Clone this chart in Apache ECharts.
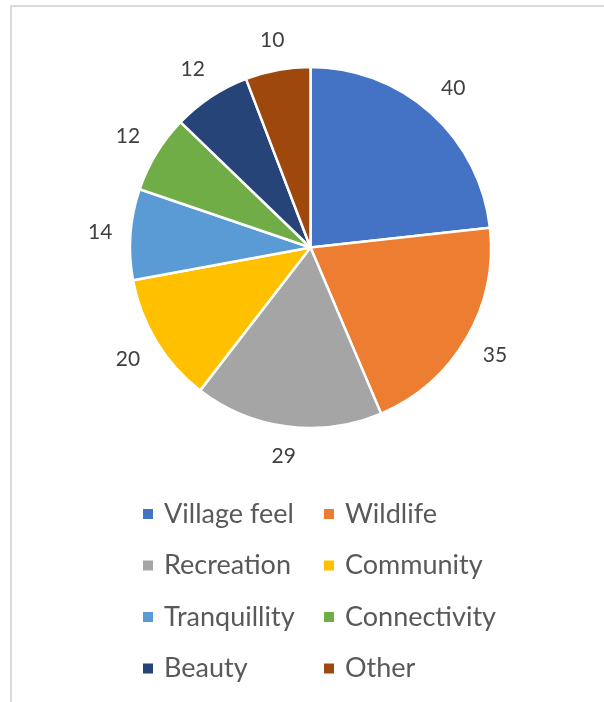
<!DOCTYPE html>
<html>
<head>
<meta charset="utf-8">
<script src="https://cdn.jsdelivr.net/npm/echarts@6/dist/echarts.min.js"></script>
<style>
  html, body { margin: 0; padding: 0; background: #ffffff; }
  #chart { width: 604px; height: 702px; }
</style>
</head>
<body>
<div id="chart"></div>
<script>
// Reasons people value the area (counts of responses)
const categories = ['Village feel', 'Wildlife', 'Recreation', 'Community',
                    'Tranquillity', 'Connectivity', 'Beauty', 'Other'];
const counts = [40, 35, 29, 20, 14, 12, 12, 10];
const colors = ['#4472C4', '#ED7D31', '#A5A5A5', '#FFC000',
                '#5B9BD5', '#70AD47', '#264478', '#9E480E'];

// Legend columns: left column and right column
const legendLeft = ['Village feel', 'Recreation', 'Tranquillity', 'Beauty'];
const legendRight = ['Wildlife', 'Community', 'Connectivity', 'Other'];

const FONT = 'Lato';
const CX = 310.5, CY = 247.5, R = 180.5;
const LABEL_GAP = 198; // distance from centre to the nearest edge of each value label

const total = counts.reduce((a, b) => a + b, 0);
// mid angle of each slice, measured clockwise from 12 o'clock
const midAngles = [];
counts.reduce((acc, v) => { midAngles.push((acc + v / 2) / total * 2 * Math.PI); return acc + v; }, 0);

const pieData = categories.map((name, i) => ({
  name, value: counts[i], itemStyle: { color: colors[i] }
}));

const chart = echarts.init(document.getElementById('chart'), null, { renderer: 'canvas' });

const legendCommon = {
  orient: 'vertical',
  top: 499,
  itemWidth: 12,
  itemHeight: 12,
  itemGap: 21.5,
  icon: 'rect',
  selectedMode: false,
  textStyle: { fontFamily: FONT, fontSize: 27, color: '#595959', lineHeight: 30, padding: [0, 0, 0, 5] },
  padding: 0
};

chart.setOption({
  animation: false,
  backgroundColor: '#ffffff',
  graphic: [{
    type: 'rect',
    shape: { x: 11, y: 6, width: 800, height: 900 },
    style: { fill: 'none', stroke: '#d9d9d9', lineWidth: 2 },
    silent: true
  }],
  legend: [
    Object.assign({}, legendCommon, { left: 141, data: legendLeft }),
    Object.assign({}, legendCommon, { left: 322, data: legendRight })
  ],
  series: [{
    type: 'pie',
    center: [CX, CY],
    radius: [0, R],
    startAngle: 90,
    clockwise: true,
    data: pieData,
    itemStyle: { borderColor: '#ffffff', borderWidth: 2.5 },
    label: {
      show: true,
      position: 'outside',
      formatter: '{c}',
      fontFamily: FONT,
      fontSize: 21,
      color: '#404040'
    },
    labelLine: { show: false },
    // place each value label just outside its slice, box edge at LABEL_GAP from the centre
    labelLayout: function (p) {
      const a = midAngles[p.dataIndex];
      const ux = Math.sin(a), uy = -Math.cos(a);
      const w = p.labelRect.width, h = p.labelRect.height;
      const d = LABEL_GAP + Math.abs(ux) * w / 2 + Math.abs(uy) * h / 2;
      return { x: CX + ux * d, y: CY + uy * d, align: 'center', verticalAlign: 'middle' };
    },
    emphasis: { disabled: true },
    silent: true
  }]
});
</script>
</body>
</html>
